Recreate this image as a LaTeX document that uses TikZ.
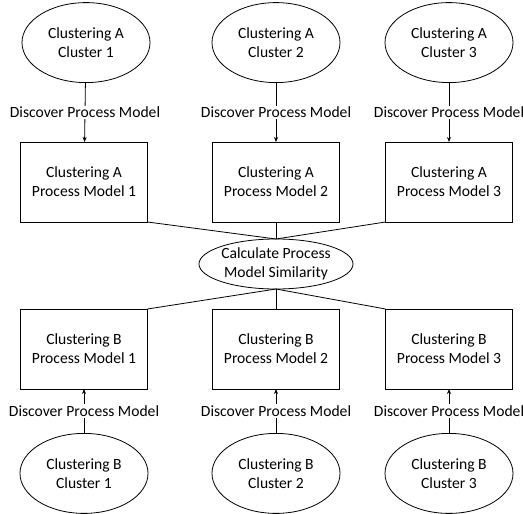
\documentclass[tikz,border=0pt]{standalone}
\usepackage{fontspec}
\setmainfont{Carlito}
\usetikzlibrary{arrows.meta,positioning,shapes.geometric}

\begin{document}
\begin{tikzpicture}[
        x=1pt,y=1pt,
        font=\fontsize{15.6}{19}\selectfont,
        clus/.style={draw,ellipse,minimum width=128pt,minimum height=80pt,inner sep=0pt,align=center,line width=0.8pt},
        pm/.style={draw,rectangle,minimum width=127pt,minimum height=80pt,align=center,line width=0.8pt,outer sep=0pt},
        sim/.style={draw,ellipse,minimum width=154pt,minimum height=50pt,inner xsep=-7pt,inner ysep=-2pt,align=center,line width=0.8pt,outer sep=0pt},
        lbl/.style={fill=white,inner xsep=1pt,inner ysep=1.5pt},
        flow/.style={-{Stealth[length=5pt,width=4pt]},line width=0.8pt},
        link/.style={line width=0.8pt}
      ]
        \useasboundingbox (0,0) rectangle (523,-514);
        % similarity in the middle
        \node[sim] (sim) at (276,-264) {Calculate Process\\Model Similarity};
        % clustering A
        \node[pm,above=17pt of sim] (pa2) {Clustering A\\Process Model 2};
        \node[pm,left=65pt of pa2] (pa1) {Clustering A\\Process Model 1};
        \node[pm,right=46pt of pa2] (pa3) {Clustering A\\Process Model 3};
        \node[clus,above=59pt of pa1,xshift=2pt] (ca1) {Clustering A\\Cluster 1};
        \node[clus,above=59pt of pa2] (ca2) {Clustering A\\Cluster 2};
        \node[clus,above=59pt of pa3] (ca3) {Clustering A\\Cluster 3};
        % clustering B
        \node[pm,below=20pt of sim] (pb2) {Clustering B\\Process Model 2};
        \node[pm,left=65pt of pb2] (pb1) {Clustering B\\Process Model 1};
        \node[pm,right=46pt of pb2] (pb3) {Clustering B\\Process Model 3};
        \node[clus,below=44pt of pb1] (cb1) {Clustering B\\Cluster 1};
        \node[clus,below=44pt of pb2] (cb2) {Clustering B\\Cluster 2};
        \node[clus,below=44pt of pb3] (cb3) {Clustering B\\Cluster 3};
        % discovery arrows
        \draw[flow] (ca1) -- node[lbl] {Discover Process Model} (pa1);
        \draw[flow] (ca2) -- node[lbl] {Discover Process Model} (pa2);
        \draw[flow] (ca3) -- node[lbl] {Discover Process Model} (pa3);
        \draw[flow] (cb1) -- node[lbl] {Discover Process Model} (pb1);
        \draw[flow] (cb2) -- node[lbl] {Discover Process Model} (pb2);
        \draw[flow] (cb3) -- node[lbl] {Discover Process Model} (pb3);
        % links to the comparison
        \draw[link] (pa1.south east) -- (sim.north);
        \draw[link] (pa2) -- (sim);
        \draw[link] (pa3.south west) -- (sim.north);
        \draw[link] (sim.south) -- (pb1.north east);
        \draw[link] (sim) -- (pb2);
        \draw[link] (sim.south) -- (pb3.north west);
      \end{tikzpicture}
\end{document}
